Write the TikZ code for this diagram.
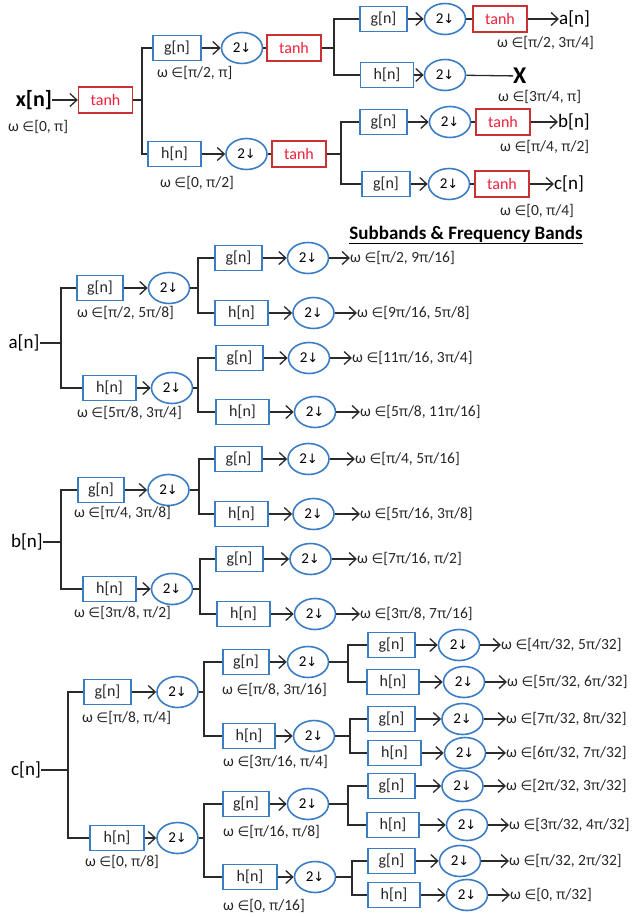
\documentclass[tikz,border=0pt]{standalone}
\usepackage{fontspec}
\setmainfont{Carlito}
\newfontfamily\dv{DejaVu Sans}
\newfontfamily\grk{Noto Sans}
\usetikzlibrary{shapes.geometric,arrows.meta}
\definecolor{bblue}{HTML}{3B7DC4}
\definecolor{rbord}{HTML}{C83232}
\definecolor{rtext}{HTML}{F0203A}
\definecolor{lnc}{HTML}{2A2A2A}
\newcommand{\myin}{{\dv\fontsize{13.5}{15}\selectfont ∈}}
\newcommand{\pp}{{\grk\fontsize{14}{16}\selectfont π}}
\newcommand{\dn}{{\dv\fontsize{13}{14}\selectfont ↓}}
\begin{document}
\begin{tikzpicture}[x=1pt,y=-1pt,
  fbox/.style={draw=bblue,line width=1.3pt,minimum height=25pt,inner sep=0pt,font=\fontsize{16}{18}\selectfont,text=black!85},
  gb/.style={fbox,minimum width=47pt},
  hb/.style={fbox,minimum width=53pt},
  tb/.style={draw=rbord,line width=1.3pt,minimum width=54pt,minimum height=26pt,inner sep=0pt,text=rtext,font=\fontsize{16}{18}\selectfont},
  ds/.style={ellipse,draw=bblue,line width=1.6pt,minimum width=41pt,minimum height=31pt,inner sep=0pt,font=\fontsize{15}{16}\selectfont},
  lab/.style={anchor=west,inner sep=0pt,font=\fontsize{15.5}{17}\selectfont,text=black!85},
  sig/.style={inner sep=0pt,font=\fontsize{19}{22}\selectfont},
  wire/.style={draw=lnc,line width=1.3pt},
  arr/.style={wire,-{Straight Barb[length=7pt,width=13pt,line width=1.3pt]}},
]
\newcommand{\leaf}[8]{%
  \node[#2] (#1) at (#4,#5) {#3[n]};
  \node[ds] (#1e) at (#6,#5) {2\dn};
  \node[lab] (#1o) at (#7,#5) {ω \myin[#8]};
  \draw[arr] (#1) -- (#1e);
  \draw[arr] (#1e) -- (#1o);
}
\newcommand{\fork}[4]{%
  \coordinate (#1f) at (#1.east -| #2,0);
  \draw[wire] (#1.east) -- (#1f);
  \draw[wire] (#3.west) -| (#1f) |- (#4.west);
}
\useasboundingbox (0,0) rectangle (631,917);

% ---------- top analysis tree ----------
\node[sig,font=\bfseries\fontsize{22}{24}\selectfont] (xn) at (34,100) {x[n]};
\node[lab] (w0) at (8,127) {ω \myin[0, \pp]};
\node[tb] (t0) at (105.5,100) {tanh};
\draw[arr] (xn) -- (t0);
\node[gb,minimum width=48pt] (g1) at (177,48) {g[n]};
\node[ds] (e1) at (242,48) {2\dn};
\node[tb] (t1) at (294,48) {tanh};
\node[lab] (w1) at (157,73) {ω \myin[\pp/2, \pp]};
\node[hb] (h1) at (174.5,154) {h[n]};
\node[ds] (e2) at (246.5,154) {2\dn};
\node[tb] (t2) at (299,154) {tanh};
\node[lab] (w2) at (160,183) {ω \myin[0, \pp/2]};
\fork{t0}{142}{g1}{h1}
\draw[arr] (g1) -- (e1);
\draw[wire] (e1) -- (t1);
\draw[arr] (h1) -- (e2);
\draw[wire] (e2) -- (t2);

\node[gb] (g11) at (383.5,19) {g[n]};
\node[ds] (e11) at (445,19) {2\dn};
\node[tb] (t11) at (500,19) {tanh};
\node[sig,anchor=west] (an) at (559,19) {a[n]};
\node[lab] (wa) at (497,43) {ω \myin[\pp/2, 3\pp/4]};
\node[hb] (h11) at (387,75) {h[n]};
\node[ds] (e12) at (445,75) {2\dn};
\node[inner sep=0pt,anchor=west,font=\bfseries\fontsize{24}{26}\selectfont] (xx) at (513,76) {X};
\node[lab] (wX) at (498,97) {ω \myin[3\pp/4, \pp]};
\fork{t1}{334}{g11}{h11}
\draw[arr] (g11) -- (e11);
\draw[wire] (e11) -- (t11);
\draw[arr] (t11) -- (an);
\draw[arr] (h11) -- (e12);
\draw[wire] (e12) -- (xx);

\node[gb] (g21) at (383.5,122) {g[n]};
\node[ds] (e21) at (450,122) {2\dn};
\node[tb] (t21) at (503,122) {tanh};
\node[sig,anchor=west] (bn) at (558,122) {b[n]};
\node[lab] (wb) at (500,147) {ω \myin[\pp/4, \pp/2]};
\node[gb,minimum width=48pt] (g22) at (386,184) {g[n]};
\node[ds] (e22) at (449,184) {2\dn};
\node[tb] (t22) at (502,184) {tanh};
\node[sig,anchor=west] (cn) at (554,184) {c[n]};
\node[lab] (wc) at (500,211) {ω \myin[0, \pp/4]};
\fork{t2}{341}{g21}{g22}
\draw[arr] (g21) -- (e21);
\draw[wire] (e21) -- (t21);
\draw[arr] (t21) -- (bn);
\draw[arr] (g22) -- (e22);
\draw[wire] (e22) -- (t22);
\draw[arr] (t22) -- (cn);

\node[inner sep=0pt,font=\bfseries\fontsize{19}{22}\selectfont] (title) at (466,235) {\underline{Subbands \& Frequency Bands}};

% ---------- a[n] ----------
\node[sig] (asig) at (24,343) {a[n]};
\node[gb,minimum width=46pt] (ag) at (100,288) {g[n]};
\node[ds] (age) at (169,288) {2\dn};
\node[lab] (wag) at (77,313) {ω \myin[\pp/2, 5\pp/8]};
\node[hb] (ah) at (109.5,388) {h[n]};
\node[ds] (ahe) at (172,388) {2\dn};
\node[lab] (wah) at (77,413) {ω \myin[5\pp/8, 3\pp/4]};
\fork{asig}{61}{ag}{ah}
\draw[arr] (ag) -- (age);
\draw[arr] (ah) -- (ahe);
\leaf{agg}{gb}{g}{238.5}{258}{308}{350}{\pp/2, 9\pp/16}
\leaf{agh}{hb}{h}{241.5}{313}{313.5}{357}{9\pp/16, 5\pp/8}
\fork{age}{198}{agg}{agh}
\leaf{ahg}{gb}{g}{239.5}{358}{309}{352}{11\pp/16, 3\pp/4}
\leaf{ahh}{hb}{h}{242.5}{412}{315}{360}{5\pp/8, 11\pp/16}
\fork{ahe}{198}{ahg}{ahh}

% ---------- b[n] ----------
\node[sig] (bsig) at (27,542) {b[n]};
\node[gb,minimum width=46pt] (bg) at (101,490) {g[n]};
\node[ds] (bge) at (168.5,490) {2\dn};
\node[lab] (wbg) at (74,513) {ω \myin[\pp/4, 3\pp/8]};
\node[hb] (bh) at (109.5,589) {h[n]};
\node[ds] (bhe) at (172,589) {2\dn};
\node[lab] (wbh) at (74,613) {ω \myin[3\pp/8, \pp/2]};
\fork{bsig}{61}{bg}{bh}
\draw[arr] (bg) -- (bge);
\draw[arr] (bh) -- (bhe);
\leaf{bgg}{gb}{g}{238.5}{459}{308.5}{355}{\pp/4, 5\pp/16}
\leaf{bgh}{hb}{h}{241.5}{514}{313.5}{360}{5\pp/16, 3\pp/8}
\fork{bge}{199}{bgg}{bgh}
\leaf{bhg}{gb}{g}{239.5}{559}{310.5}{357}{7\pp/16, \pp/2}
\leaf{bhh}{hb}{h}{243.5}{614}{315}{360}{3\pp/8, 7\pp/16}
\fork{bhe}{200}{bhg}{bhh}

% ---------- c[n] ----------
\node[sig] (csig) at (26,770) {c[n]};
\node[gb] (cg) at (107.5,692) {g[n]};
\node[ds] (cge) at (177.5,692) {2\dn};
\node[lab] (wcg) at (82,718) {ω \myin[\pp/8, \pp/4]};
\node[hb,minimum width=54pt] (ch) at (117,838) {h[n]};
\node[ds] (che) at (177.5,838) {2\dn};
\node[lab] (wch) at (85,862) {ω \myin[0, \pp/8]};
\fork{csig}{68}{cg}{ch}
\draw[arr] (cg) -- (cge);
\draw[arr] (ch) -- (che);

\node[gb,minimum width=46pt] (cgg) at (246,662) {g[n]};
\node[ds] (cgge) at (308,662) {2\dn};
\node[lab] (wcgg) at (222,690) {ω \myin[\pp/8, 3\pp/16]};
\node[hb,minimum width=52pt] (cgh) at (249,736) {h[n]};
\node[ds] (cghe) at (314,736) {2\dn};
\node[lab] (wcgh) at (223,762) {ω \myin[3\pp/16, \pp/4]};
\fork{cge}{204}{cgg}{cgh}
\draw[arr] (cgg) -- (cgge);
\draw[arr] (cgh) -- (cghe);
\leaf{cggg}{gb}{g}{391.5}{645}{459}{501}{4\pp/32, 5\pp/32}
\leaf{cggh}{hb,minimum width=52pt}{h}{393}{682}{464}{507}{5\pp/32, 6\pp/32}
\fork{cgge}{348}{cggg}{cggh}
\leaf{cghg}{gb}{g}{391.5}{719}{462.5}{506}{7\pp/32, 8\pp/32}
\leaf{cghh}{hb}{h}{394.5}{753}{465}{506}{6\pp/32, 7\pp/32}
\fork{cghe}{350}{cghg}{cghh}

\node[gb,minimum width=46pt] (chg) at (246,804) {g[n]};
\node[ds] (chge) at (308,804) {2\dn};
\node[lab] (wchg) at (223,832) {ω \myin[\pp/16, \pp/8]};
\node[hb,minimum width=54pt] (chh) at (250,877) {h[n]};
\node[ds] (chhe) at (315,877) {2\dn};
\node[lab] (wchh) at (223,906) {ω \myin[0, \pp/16]};
\fork{che}{204}{chg}{chh}
\draw[arr] (chg) -- (chge);
\draw[arr] (chh) -- (chhe);
\leaf{chgg}{gb}{g}{391.5}{786}{462.5}{506}{2\pp/32, 3\pp/32}
\leaf{chgh}{hb,minimum width=52pt}{h}{393}{825}{467}{509}{3\pp/32, 4\pp/32}
\fork{chge}{348}{chgg}{chgh}
\leaf{chhg}{gb}{g}{391.5}{861}{460}{509}{\pp/32, 2\pp/32}
\leaf{chhh}{hb,minimum width=52pt}{h}{394}{895}{467}{510}{0, \pp/32}
\fork{chhe}{352}{chhg}{chhh}
\end{tikzpicture}
\end{document}
